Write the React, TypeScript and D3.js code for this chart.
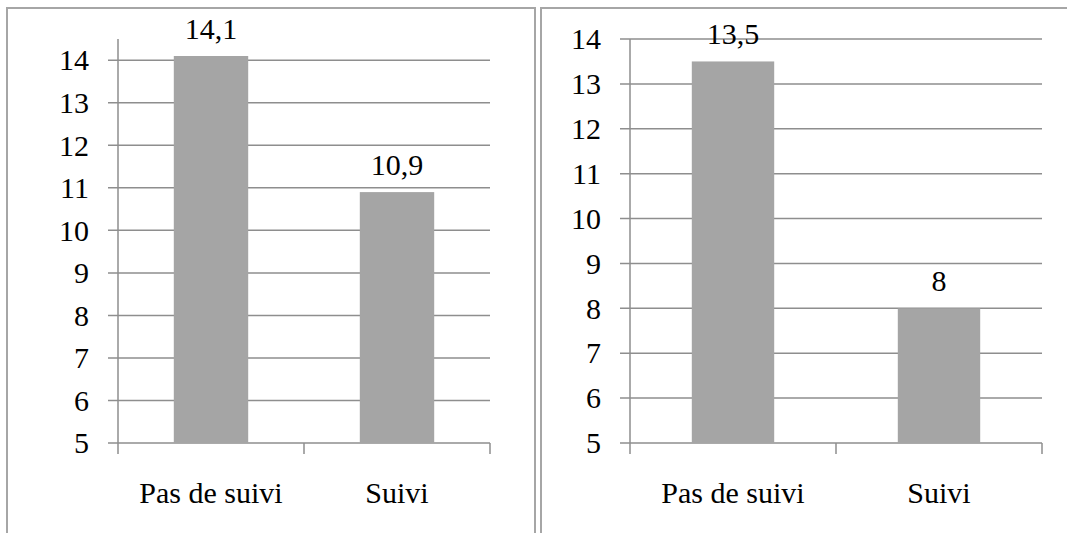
import React, { useEffect, useRef } from "react";
import * as d3 from "d3";

const categories = ["Pas de suivi", "Suivi"];
const leftValues = [14.1, 10.9];
const rightValues = [13.5, 8];
const yTicks = [5, 6, 7, 8, 9, 10, 11, 12, 13, 14];
const leftDomain = [5, 14.5];
const rightDomain = [5, 14];

const frLocale = d3.formatLocale({ decimal: ",", thousands: " ", grouping: [3], currency: ["", "€"] });
const fmt = (v: number) => frLocale.format("~g")(v);

const FONT = "Liberation Serif";
const FS = 30;
const GRID = "#8e8e8e";
const BORDER = "#a6a6a6";
const BAR = "#a5a5a5";

type PanelProps = {
  values: number[];
  domain: number[];
  x0: number;
  x1: number;
};

function Panel({ values, domain, x0, x1 }: PanelProps) {
  const yTop = 39;
  const yBot = 443;
  const y = d3.scaleLinear().domain(domain).range([yBot, yTop]);
  const x = d3.scaleBand().domain(categories).range([x0, x1]).paddingInner(0).paddingOuter(0);
  const bw = x.bandwidth() * 0.4;
  return (
    <g>
      {yTicks.map((t) => (
        <g key={t}>
          <line x1={x0 - 10} x2={x1} y1={y(t)} y2={y(t)} stroke={GRID} strokeWidth={1.5} />
          <text x={x0 - 29} y={y(t)} dy="0.34em" textAnchor="end" fontFamily={FONT} fontSize={FS}>
            {String(t)}
          </text>
        </g>
      ))}
      <line x1={x0} x2={x0} y1={yTop} y2={yBot} stroke={GRID} strokeWidth={1.5} />
      {[x0, x0 + x.bandwidth(), x1].map((tx, i) => (
        <line key={i} x1={tx} x2={tx} y1={yBot} y2={yBot + 11} stroke={GRID} strokeWidth={1.5} />
      ))}
      {categories.map((c, i) => {
        const cx = (x(c) as number) + x.bandwidth() / 2;
        return (
          <g key={c}>
            <rect x={cx - bw / 2} y={y(values[i])} width={bw} height={yBot - y(values[i])} fill={BAR} />
            <text x={cx} y={y(values[i]) - 17} textAnchor="middle" fontFamily={FONT} fontSize={FS}>
              {fmt(values[i])}
            </text>
            <text x={cx} y={503} textAnchor="middle" fontFamily={FONT} fontSize={FS}>
              {c}
            </text>
          </g>
        );
      })}
    </g>
  );
}

export default function App() {
  const ref = useRef<SVGSVGElement>(null);
  useEffect(() => {
    if (!ref.current) return;
    d3.select(ref.current)
      .selectAll<SVGTextElement, unknown>("text")
      .each(function () {
        this.style.setProperty("font-family", '"Liberation Serif", "Times New Roman", serif', "important");
        this.style.setProperty("fill", "#000", "important");
      });
  }, []);
  return (
    <svg
      ref={ref}
      width={1067}
      height={533}
      fontFamily={FONT}
      style={{ position: "absolute", left: 0, top: 0, background: "#fff" }}
    >
      <rect x={0} y={0} width={1067} height={533} fill="#fff" />
      <rect x={7} y={8} width={528} height={560} fill="none" stroke={BORDER} strokeWidth={2} />
      <rect x={541} y={8} width={560} height={560} fill="none" stroke={BORDER} strokeWidth={2} />
      <Panel values={leftValues} domain={leftDomain} x0={118} x1={490} />
      <Panel values={rightValues} domain={rightDomain} x0={630} x1={1042} />
    </svg>
  );
}
